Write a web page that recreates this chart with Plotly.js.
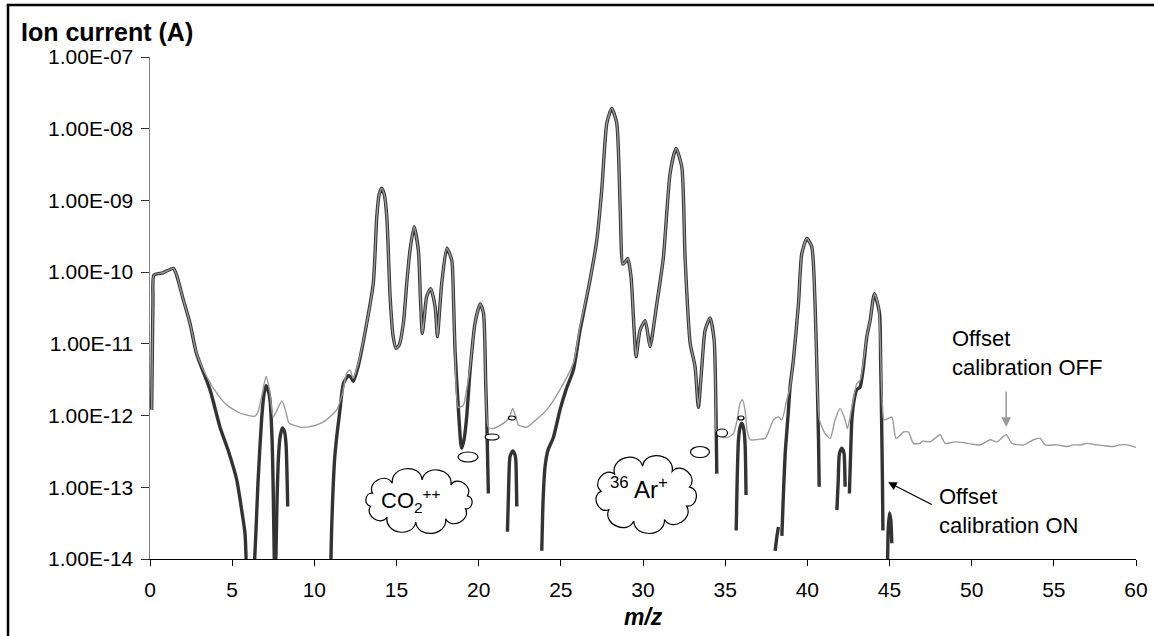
<!DOCTYPE html>
<html><head><meta charset="utf-8">
<script src="https://cdn.plot.ly/plotly-3.0.1.min.js"></script>
<style>html,body{margin:0;padding:0;background:#fff}#chart{width:1154px;height:636px}</style>
</head><body><div id="chart"></div>
<script>
// ---- data (m/z, ion current in A) ----
const xOff = [0.10,0.18,0.24,0.79,1.42,1.62,2.03,2.43,2.84,3.45,4.06,4.67,5.48,6.39,6.57,6.82,7.06,7.27,7.49,7.61,8.03,8.28,8.46,9.13,9.74,10.53,11.36,11.69,11.97,12.17,12.37,12.68,13.19,13.59,13.80,13.94,14.10,14.26,14.41,14.61,14.79,14.97,15.16,15.42,15.64,15.82,16.07,16.33,16.46,16.57,16.67,16.84,17.08,17.35,17.49,17.62,17.75,18.06,18.36,18.47,18.56,18.76,19.07,19.27,19.48,19.78,20.09,20.29,20.43,20.59,20.89,21.50,21.85,22.07,22.28,22.42,22.93,23.33,24.14,24.95,25.76,26.17,26.78,27.19,27.49,27.80,28.10,28.40,28.61,28.77,28.91,29.07,29.27,29.46,29.58,29.82,30.13,30.31,30.43,30.84,31.24,31.65,32.01,32.36,32.56,32.87,33.17,33.37,33.58,33.78,34.08,34.33,34.42,34.49,34.89,35.18,35.50,35.73,35.91,36.05,36.21,36.33,36.52,37.13,37.44,37.94,38.24,38.45,38.75,38.95,39.15,39.46,39.66,39.97,40.27,40.47,40.61,40.74,41.08,41.39,41.69,41.99,42.30,42.44,42.71,43.01,43.21,43.62,43.82,44.08,44.33,44.52,44.66,44.83,45.14,45.40,45.85,46.15,46.46,46.87,47.00,47.47,48.08,48.39,49.00,49.50,50.00,50.52,51.13,51.53,52.10,52.45,53.15,53.76,54.17,54.47,55.19,55.50,55.80,56.20,56.60,57.01,57.62,58.10,58.63,59.00,59.45,60.00];
const yOff = [1.2e-12,4.1e-11,9.1e-11,9.8e-11,1.13e-10,9.1e-11,4.1e-11,1.95e-11,7.4e-12,3.5e-12,2.05e-12,1.4e-12,1.08e-12,9.8e-13,1.12e-12,1.95e-12,3.5e-12,2.3e-12,9.5e-13,1.05e-12,1.6e-12,1.1e-12,7.9e-13,6.9e-13,7.0e-13,8.1e-13,1.2e-12,1.96e-12,3.9e-12,4.3e-12,3.3e-12,5.4e-12,1.95e-11,7.1e-11,5.9e-10,1.2e-9,1.48e-9,1.2e-9,5.9e-10,4.6e-11,1.3e-11,8.7e-12,9.6e-12,1.95e-11,7.8e-11,2.0e-10,4.3e-10,2.0e-10,4.1e-11,1.4e-11,2.1e-11,4.6e-11,5.9e-11,3.3e-11,1.26e-11,2.9e-11,6.9e-11,2.15e-10,1.47e-10,4.1e-11,8.2e-12,1.3e-12,1.4e-12,2.3e-12,4.8e-12,1.95e-11,3.6e-11,2.7e-11,2.8e-12,6.9e-13,6.6e-13,7.8e-13,9.3e-13,1.26e-12,9.3e-13,7.4e-13,6.9e-13,8.1e-13,1.2e-12,2.3e-12,5.4e-12,1.74e-11,7.8e-11,2.8e-10,1.4e-9,1.2e-8,1.92e-8,1.2e-8,8.1e-10,1.3e-10,1.38e-10,1.55e-10,8.7e-11,1.55e-11,6.6e-12,1.55e-11,2.1e-11,1.3e-11,9.1e-12,3.6e-11,1.6e-10,2.4e-9,5.3e-9,2.95e-9,1.6e-10,1.02e-11,4.8e-12,1.3e-12,4.8e-12,1.55e-11,2.3e-11,1.12e-11,1.66e-12,5.6e-13,5.0e-13,5.0e-13,5.6e-13,8.7e-13,1.5e-12,1.66e-12,1.2e-12,6.3e-13,4.6e-13,4.7e-13,4.8e-13,8.7e-13,9.6e-13,8.7e-13,1.66e-12,2.5e-12,5.9e-12,3.6e-11,1.8e-10,2.95e-10,2.25e-10,3.6e-11,2.5e-12,8.7e-13,5.6e-13,4.8e-13,8.7e-13,1.26e-12,8.7e-13,6.6e-13,1.3e-12,2.8e-12,3.1e-12,1.26e-11,2.1e-11,5.0e-11,3.3e-11,2.5e-12,8.7e-13,8.9e-13,9.6e-13,4.8e-13,5.9e-13,5.9e-13,4.1e-13,4.1e-13,4.4e-13,4.3e-13,5.4e-13,4.1e-13,4.3e-13,4.2e-13,4.0e-13,3.9e-13,4.6e-13,4.3e-13,5.4e-13,4.1e-13,3.9e-13,4.6e-13,4.8e-13,3.9e-13,3.9e-13,3.8e-13,3.7e-13,3.9e-13,3.9e-13,4.1e-13,3.9e-13,3.8e-13,3.7e-13,3.9e-13,3.9e-13,3.6e-13];

const xOn = [0.10,0.18,0.24,0.79,1.42,1.62,2.03,2.43,2.84,3.65,4.26,4.75,5.28,5.58,5.78,5.86,null,
  6.35,6.45,6.57,6.80,6.94,7.06,7.18,7.30,7.43,7.49,7.57,null,
  7.65,7.73,7.82,7.91,8.05,8.19,8.28,8.38,null,
  11.00,11.05,11.12,11.23,11.36,11.56,11.77,12.07,12.23,12.37,12.68,13.19,13.59,13.80,13.94,14.10,14.26,14.41,14.61,14.79,14.97,15.16,15.42,15.64,15.82,16.07,16.33,16.46,16.57,16.67,16.84,17.08,17.35,17.49,17.62,17.75,18.06,18.36,18.47,18.56,18.76,18.91,18.97,19.11,19.27,19.48,19.78,20.09,20.29,20.43,20.49,20.59,null,
  21.75,21.82,21.91,22.07,22.22,22.26,22.32,null,
  23.84,23.92,24.04,24.22,24.55,24.95,25.32,25.76,26.17,26.78,27.19,27.49,27.80,28.10,28.40,28.61,28.77,28.91,29.07,29.27,29.46,29.58,29.82,30.13,30.31,30.43,30.84,31.24,31.65,32.01,32.36,32.56,32.87,33.17,33.37,33.58,33.78,34.08,34.33,34.45,34.49,null,
  35.67,35.73,35.81,35.91,36.01,36.12,36.21,36.27,null,
  38.04,38.14,38.24,null,
  38.45,38.53,38.65,38.83,38.95,39.15,39.46,39.66,39.97,40.27,40.47,40.61,40.68,40.72,null,
  41.80,41.88,41.95,42.10,42.18,42.24,42.30,null,
  42.56,42.64,42.71,42.85,43.01,43.21,43.39,43.62,43.82,44.08,44.39,44.46,44.52,44.57,44.60,null,
  44.88,44.92,45.00,45.08,45.14];
const yOn = [1.2e-12,4.1e-11,9.1e-11,9.8e-11,1.13e-10,9.1e-11,4.1e-11,1.95e-11,7.2e-12,2.3e-12,6.9e-13,3.3e-13,1.26e-13,4.8e-14,2.3e-14,8e-15,null,
  8e-15,2.5e-14,1.15e-13,9.5e-13,2.0e-12,2.6e-12,2.3e-12,1.66e-12,4.6e-13,1.15e-13,8e-15,null,
  8e-15,6.6e-14,2.7e-13,4.9e-13,6.7e-13,5.9e-13,3.9e-13,5.4e-14,null,
  8e-15,2.5e-14,7.4e-14,2.4e-13,5.0e-13,1.2e-12,2.8e-12,3.6e-12,3.4e-12,3.0e-12,5.0e-12,1.95e-11,7.1e-11,5.9e-10,1.2e-9,1.48e-9,1.2e-9,5.9e-10,4.6e-11,1.3e-11,8.7e-12,9.6e-12,1.95e-11,7.8e-11,2.0e-10,4.3e-10,2.0e-10,4.1e-11,1.4e-11,2.1e-11,4.6e-11,5.9e-11,3.3e-11,1.26e-11,2.9e-11,6.9e-11,2.15e-10,1.47e-10,4.1e-11,8.2e-12,1.3e-12,4.1e-13,3.5e-13,4.6e-13,9.5e-13,4.3e-12,1.95e-11,3.6e-11,2.7e-11,2.8e-12,9.5e-13,8.2e-14,null,
  2.4e-14,9.1e-14,2.7e-13,3.2e-13,2.8e-13,2.4e-13,5.4e-14,null,
  1.3e-14,6.6e-14,1.94e-13,3.3e-13,5.0e-13,1.2e-12,2.3e-12,4.3e-12,1.55e-11,7.8e-11,2.8e-10,1.4e-9,1.2e-8,1.92e-8,1.2e-8,8.1e-10,1.3e-10,1.38e-10,1.55e-10,8.7e-11,1.55e-11,6.6e-12,1.55e-11,2.1e-11,1.3e-11,9.1e-12,3.6e-11,1.6e-10,2.4e-9,5.3e-9,2.95e-9,1.6e-10,1.02e-11,4.8e-12,1.3e-12,4.8e-12,1.55e-11,2.3e-11,1.12e-11,7.8e-13,1.55e-13,null,
  2.5e-14,1.26e-13,4.6e-13,6.9e-13,7.8e-13,6.7e-13,4.1e-13,7.8e-14,null,
  1.3e-14,2.0e-14,2.8e-14,null,
  2.1e-14,6.6e-14,2.9e-13,1.02e-12,2.5e-12,5.9e-12,3.6e-11,1.8e-10,2.95e-10,2.25e-10,3.6e-11,2.5e-12,4.6e-13,1.02e-13,null,
  4.8e-14,1.26e-13,2.9e-13,3.5e-13,3.3e-13,2.9e-13,1.02e-13,null,
  8.2e-14,3.3e-13,8.7e-13,1.66e-12,2.3e-12,2.5e-12,4.3e-12,1.26e-11,2.1e-11,5.0e-11,2.7e-11,5.9e-12,8.7e-13,1.26e-13,2.5e-14,null,
  8e-15,2.5e-14,4.4e-14,3.5e-14,1.66e-14];

const yTickVals = [1e-14,1e-13,1e-12,1e-11,1e-10,1e-9,1e-8,1e-7];
const yTickText = ['1.00E-14','1.00E-13','1.00E-12','1.00E-11','1.00E-10','1.00E-09','1.00E-08','1.00E-07'];
const xTickVals = [0,5,10,15,20,25,30,35,40,45,50,55,60];

const FONT = 'Liberation Sans, Arial, sans-serif';

function cloudPath(w, h, n) {
  const a = w/2 - 9, b = h/2 - 8;
  const pts = [];
  for (let i = 0; i < n; i++) {
    const t = 2*Math.PI*i/n + 0.25;
    pts.push([a*Math.cos(t), b*Math.sin(t)]);
  }
  let d = 'M' + pts[0][0].toFixed(1) + ',' + pts[0][1].toFixed(1);
  for (let i = 0; i < n; i++) {
    const p = pts[i], q = pts[(i+1)%n];
    const mx = (p[0]+q[0])/2, my = (p[1]+q[1])/2;
    let nx = q[1]-p[1], ny = -(q[0]-p[0]);
    const len = Math.hypot(nx, ny); nx /= len; ny /= len;
    if (nx*mx + ny*my < 0) { nx = -nx; ny = -ny; }
    const r = Math.hypot(q[0]-p[0], q[1]-p[1])/2;
    const k = r*1.15;
    d += ' C' + (p[0]+nx*k).toFixed(1) + ',' + (p[1]+ny*k).toFixed(1) + ' ' +
         (q[0]+nx*k).toFixed(1) + ',' + (q[1]+ny*k).toFixed(1) + ' ' +
         q[0].toFixed(1) + ',' + q[1].toFixed(1);
  }
  return d + ' Z';
}
function cloud(cx, cy, w, h, n) {
  return {type:'path', xref:'paper', yref:'paper', xsizemode:'pixel', ysizemode:'pixel',
    xanchor:cx, yanchor:cy, path:cloudPath(w,h,n), fillcolor:'#fff',
    line:{color:'#000', width:1.2}, layer:'above'};
}
function bubble(cx, cy, w, h) {
  return {type:'circle', xref:'paper', yref:'paper', xsizemode:'pixel', ysizemode:'pixel',
    xanchor:cx, yanchor:cy, x0:-w/2, x1:w/2, y0:-h/2, y1:h/2, fillcolor:'#fff',
    line:{color:'#000', width:1.2}, layer:'above'};
}

const traces = [
  {x:xOn, y:yOn, type:'scatter', mode:'lines', connectgaps:false,
   line:{color:'#333333', width:3.4, shape:'spline', smoothing:0.6}, hoverinfo:'skip'},
  {x:xOff, y:yOff, type:'scatter', mode:'lines',
   line:{color:'#9a9a9a', width:1.4, shape:'spline', smoothing:0.6}, hoverinfo:'skip'}
];

const layout = {
  width:1154, height:636,
  margin:{l:150, r:18, t:57, b:77},
  paper_bgcolor:'#fff', plot_bgcolor:'#fff',
  showlegend:false,
  font:{family:FONT, color:'#000', size:21},
  xaxis:{range:[0,60], tickvals:xTickVals, ticks:'outside', ticklen:6, tickcolor:'#000', tickwidth:1,
    showline:true, linecolor:'#000', linewidth:1, showgrid:false, zeroline:false, ticklabelstandoff:6,
    tickfont:{family:FONT, size:21, color:'#000'}, fixedrange:true},
  yaxis:{type:'log', range:[-14,-7], tickvals:yTickVals, ticktext:yTickText, ticks:'outside', ticklen:8,
    tickcolor:'#333', tickwidth:1, showline:true, linecolor:'#808080', linewidth:1.5, showgrid:false,
    zeroline:false, ticklabelstandoff:3, tickfont:{family:FONT, size:21, color:'#000'}, fixedrange:true},
  shapes:[
    {type:'line', xref:'paper', yref:'paper', x0:-0.144, x1:-0.144, y0:1.1036, y1:-0.2, line:{color:'#000', width:2.5}},
    {type:'line', xref:'paper', yref:'paper', x0:-0.1453, x1:1.05, y0:1.1036, y1:1.1036, line:{color:'#000', width:2.5}},
    cloud(0.2728, 0.1155, 118, 58, 10),
    bubble(0.3225, 0.2032, 20, 10),
    bubble(0.3469, 0.2430, 14, 6),
    bubble(0.3671, 0.2809, 7, 4),
    cloud(0.5030, 0.1295, 108, 72, 9),
    bubble(0.5578, 0.2131, 19, 11),
    bubble(0.5801, 0.2510, 11, 8),
    bubble(0.5994, 0.2809, 6, 4)
  ],
  annotations:[
    {xref:'paper', yref:'paper', x:-0.1329, y:1.0490, xanchor:'left', yanchor:'middle', showarrow:false,
     text:'<b>Ion current (A)</b>', font:{family:FONT, size:25, color:'#000'}},
    {xref:'paper', yref:'paper', x:0.5, y:-0.1155, xanchor:'center', yanchor:'middle', showarrow:false,
     text:'<b><i>m/z</i></b>', font:{family:FONT, size:23, color:'#000'}},
    {xref:'paper', yref:'paper', x:0.8114, y:0.4104, xanchor:'left', yanchor:'middle', align:'left', showarrow:false,
     text:'Offset<br>calibration OFF', font:{family:FONT, size:22, color:'#000'}},
    {xref:'paper', yref:'paper', x:0.7982, y:0.0956, xanchor:'left', yanchor:'middle', align:'left', showarrow:false,
     text:'Offset<br>calibration ON', font:{family:FONT, size:22, color:'#000'}},
    {xref:'x', yref:'y', x:52.10, y:-12.16, text:'', showarrow:true, ax:0, ay:-37,
     arrowhead:2, arrowsize:1.3, arrowwidth:1.5, arrowcolor:'#999', standoff:0},
    {xref:'x', yref:'y', x:44.92, y:-12.93, text:'', showarrow:true, ax:45, ay:23,
     arrowhead:2, arrowsize:1.3, arrowwidth:1.3, arrowcolor:'#000', standoff:0},
    {xref:'paper', yref:'paper', x:0.2647, y:0.1175, xanchor:'center', yanchor:'middle', showarrow:false,
     text:'CO<sub>2</sub><sup>++</sup>', font:{family:FONT, size:22, color:'#000'}},
    {xref:'paper', yref:'paper', x:0.4959, y:0.1414, xanchor:'center', yanchor:'middle', showarrow:false,
     text:'<sup>36</sup> Ar<sup>+</sup>', font:{family:FONT, size:24, color:'#000'}}
  ]
};

Plotly.newPlot('chart', traces, layout, {staticPlot:true, displayModeBar:false});
</script></body></html>
